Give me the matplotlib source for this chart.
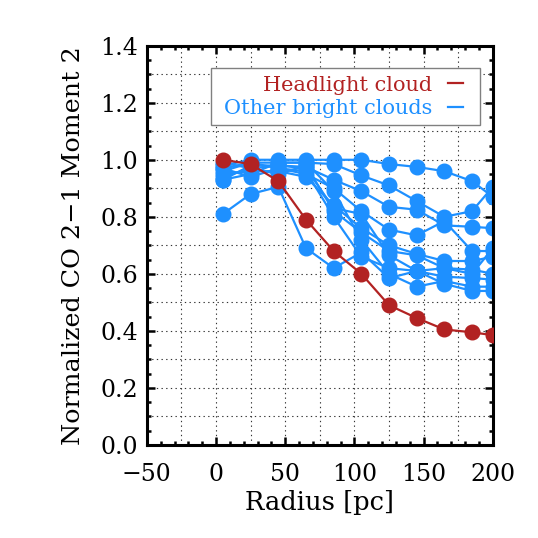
import numpy as np
import matplotlib
matplotlib.use("Agg")
import matplotlib.pyplot as plt
from matplotlib.lines import Line2D
from matplotlib.patches import Rectangle
from matplotlib.ticker import MultipleLocator

# radius bins [pc]
radius = [5, 25, 45, 65, 85, 105, 125, 145, 165, 185, 200]

# headlight cloud profile
headlight = [1.00, 0.985, 0.925, 0.79, 0.68, 0.60, 0.49, 0.445, 0.405, 0.395, 0.385]

# other bright clouds
other_clouds = [
    [0.98, 1.00, 1.00, 1.00, 1.00, 1.00, 0.985, 0.975, 0.96, 0.925, 0.87],
    [0.96, 0.99, 0.99, 0.99, 0.985, 0.945, 0.91, 0.855, 0.80, 0.82, 0.905],
    [0.93, 0.98, 0.98, 0.975, 0.93, 0.89, 0.835, 0.825, 0.77, 0.765, 0.76],
    [0.97, 0.94, 0.97, 0.95, 0.90, 0.82, 0.755, 0.735, 0.785, 0.68, 0.68],
    [0.95, 0.96, 0.96, 0.94, 0.84, 0.76, 0.70, 0.67, 0.645, 0.645, 0.66],
    [0.99, 0.97, 0.95, 0.98, 0.82, 0.745, 0.68, 0.665, 0.62, 0.615, 0.60],
    [0.97, 0.99, 0.97, 0.96, 0.80, 0.66, 0.62, 0.61, 0.59, 0.585, 0.58],
    [0.93, 0.95, 0.99, 0.99, 0.89, 0.72, 0.60, 0.555, 0.575, 0.555, 0.555],
    [0.94, 0.97, 0.98, 0.97, 0.83, 0.81, 0.665, 0.61, 0.565, 0.54, 0.54],
    [0.81, 0.88, 0.905, 0.69, 0.62, 0.675, 0.585, 0.61, 0.62, 0.60, 0.69],
]

legend_labels = ["Headlight cloud", "Other bright clouds"]

RED = "#b22222"
BLUE = "#1e90ff"


def main():
    plt.rcParams['font.family'] = ['DejaVu Serif', 'DejaVu Sans']
    fig = plt.figure(figsize=(5.38, 5.38), dpi=100)
    ax = fig.add_axes([0.273, 0.173, 0.643, 0.742])

    # dotted grid
    for gx in np.arange(-25, 200, 25):
        ax.axvline(gx, color="#333333", lw=0.8, ls=(0, (1.2, 3)), zorder=0)
    for gy in np.arange(0.1, 1.4, 0.1):
        ax.axhline(gy, color="#333333", lw=0.8, ls=(0, (1.2, 3)), zorder=0)

    for prof in other_clouds:
        ax.plot(radius, prof, color=BLUE, lw=1.6, marker="o", ms=10.5,
                mec=BLUE, mfc=BLUE, zorder=2)
    ax.plot(radius, headlight, color=RED, lw=1.6, marker="o", ms=10.5,
            mec=RED, mfc=RED, zorder=3)

    ax.set_xlim(-50, 200)
    ax.set_ylim(0, 1.4)
    ax.xaxis.set_major_locator(MultipleLocator(50))
    ax.xaxis.set_minor_locator(MultipleLocator(10))
    ax.yaxis.set_major_locator(MultipleLocator(0.2))
    ax.yaxis.set_minor_locator(MultipleLocator(0.05))
    ax.yaxis.set_major_formatter(plt.FuncFormatter(lambda v, p: f"{v:.1f}"))
    ax.xaxis.set_major_formatter(plt.FuncFormatter(
        lambda v, p: f"{v:.0f}".replace("-", "\u2212")))
    ax.tick_params(which="both", direction="in", top=True, right=True,
                   width=1.8, labelsize=17, color="black")
    ax.tick_params(which="major", length=6)
    ax.tick_params(which="minor", length=3)
    ax.tick_params(axis="x", pad=13)
    ax.tick_params(axis="y", pad=6.5)
    for sp in ax.spines.values():
        sp.set_linewidth(2.2)

    ax.set_xlabel("Radius [pc]", fontsize=18.5, labelpad=3)
    ax.set_ylabel("Normalized CO 2\u22121 Moment 2", fontsize=18.3, labelpad=11)

    # legend box drawn separately (IDL style, wide padding)
    ax.add_patch(Rectangle((0.185, 0.801), 0.777, 0.144, transform=ax.transAxes,
                           facecolor="white", edgecolor="gray", lw=1.0,
                           zorder=4))
    handles = [Line2D([], [], color=RED, lw=1.6),
               Line2D([], [], color=BLUE, lw=1.6)]
    leg = ax.legend(handles, legend_labels, loc="upper right",
                    bbox_to_anchor=(0.913, 0.925), markerfirst=False,
                    handlelength=0.7, handletextpad=0.75, fontsize=15,
                    frameon=False, borderpad=0, labelspacing=0.2,
                    borderaxespad=0)
    leg.set_zorder(5)
    for txt, col in zip(leg.get_texts(), [RED, BLUE]):
        txt.set_color(col)

    fig.savefig("out.png", dpi=100)


if __name__ == "__main__":
    main()
